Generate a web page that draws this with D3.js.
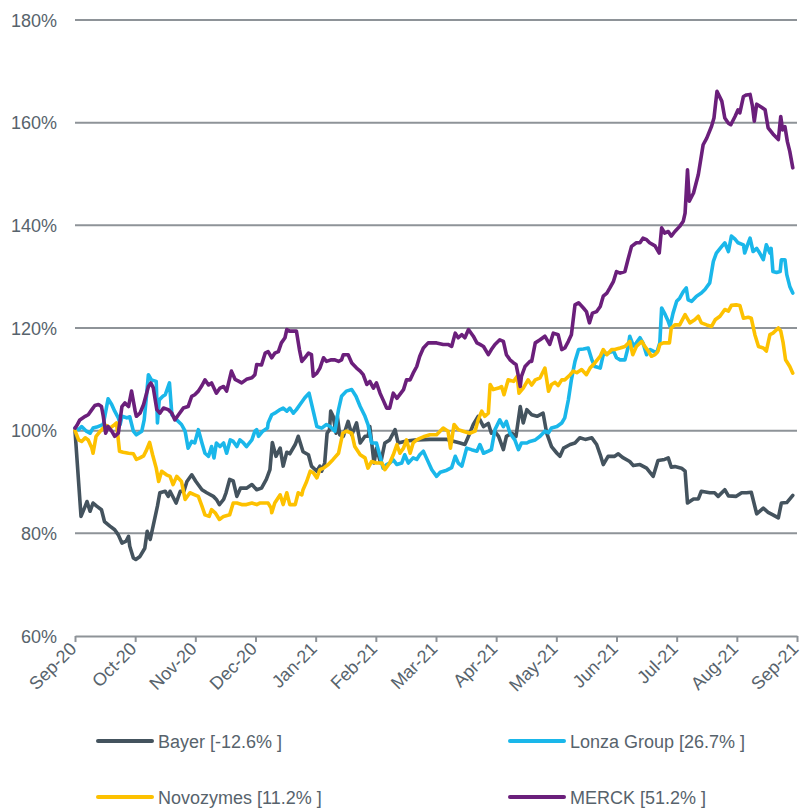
<!DOCTYPE html>
<html>
<head>
<meta charset="utf-8">
<script src="https://cdn.jsdelivr.net/npm/d3@7"></script>
<style>
  body { margin: 0; background: #fff; }
  svg { display: block; font-family: "Liberation Sans", Arial, sans-serif; }
</style>
</head>
<body>
<svg id="chart" width="803" height="809"></svg>
<script>
// ---- Data (t = months since Sep-20, v = indexed value %) ----
const monthLabels = ["Sep-20","Oct-20","Nov-20","Dec-20","Jan-21","Feb-21","Mar-21","Apr-21","May-21","Jun-21","Jul-21","Aug-21","Sep-21"];
const yTicks = [60, 80, 100, 120, 140, 160, 180];
const seriesNames = ["Bayer [-12.6% ]", "Lonza Group [26.7% ]", "Novozymes [11.2% ]", "MERCK [51.2% ]"];
const seriesColors = ["#44535e", "#1ab7ea", "#fdc100", "#6b1f7b"];

const bayer = [[0,100],[0.10,83.3],[0.17,85.3],[0.20,86.2],[0.25,84.3],[0.30,85.9],[0.36,85.3],[0.44,84.6],[0.49,82.3],[0.58,81.4],[0.66,80.7],[0.72,79.7],[0.78,78.1],[0.85,78.5],[0.89,79.4],[0.91,77.5],[0.97,75.2],[1.01,74.9],[1.08,75.5],[1.16,77.1],[1.20,80.4],[1.25,78.8],[1.30,81.5],[1.37,85.3],[1.41,87.9],[1.50,88.2],[1.55,87.2],[1.58,88.2],[1.68,85.9],[1.75,88.2],[1.81,88.2],[1.86,90.1],[1.94,91.4],[2.01,90.1],[2.11,88.5],[2.19,87.9],[2.30,87.2],[2.35,86.6],[2.40,85.6],[2.47,86.6],[2.51,87.9],[2.57,90.5],[2.63,90.2],[2.69,87.2],[2.75,88.8],[2.85,88.8],[2.94,89.5],[3.02,88.5],[3.10,88.8],[3.18,90.5],[3.24,92.4],[3.28,97.7],[3.34,95.0],[3.41,96.6],[3.46,93.1],[3.52,95.8],[3.57,95.5],[3.66,97.3],[3.71,98.9],[3.79,95.9],[3.88,95.3],[3.93,93.1],[4.02,92.1],[4.07,93.1],[4.10,92.1],[4.15,93.7],[4.19,99.5],[4.23,100.2],[4.25,103.8],[4.29,102.8],[4.34,99.5],[4.36,102.8],[4.40,99.2],[4.46,98.9],[4.54,101.8],[4.60,99.2],[4.68,101.5],[4.74,97.6],[4.82,98.9],[4.87,98.9],[4.90,100.8],[4.97,93.7],[5.01,96.6],[5.08,93.7],[5.15,97.6],[5.23,98.2],[5.32,100.2],[5.37,97.6],[5.51,98.0],[5.68,98.2],[5.90,98.3],[6.18,98.3],[6.40,97.6],[6.48,97.3],[6.54,98.9],[6.62,101.2],[6.70,102.8],[6.79,100.8],[6.87,101.4],[6.92,99.5],[6.98,99.8],[7.04,98.9],[7.12,96.3],[7.17,98.9],[7.26,99.5],[7.33,98.9],[7.40,104.7],[7.45,101.5],[7.51,104.1],[7.59,103.1],[7.68,102.8],[7.78,103.4],[7.84,99.5],[7.92,96.9],[8.01,95.6],[8.06,95.0],[8.12,96.6],[8.23,97.3],[8.31,97.6],[8.39,98.6],[8.48,98.3],[8.59,98.6],[8.67,97.3],[8.73,95.3],[8.78,93.4],[8.86,95.0],[8.97,95.0],[9.03,95.5],[9.10,94.8],[9.22,94.0],[9.28,93.2],[9.39,93.4],[9.50,92.7],[9.61,91.1],[9.69,94.2],[9.80,94.4],[9.86,94.7],[9.91,92.9],[9.97,93.0],[10.08,92.7],[10.14,92.1],[10.18,85.9],[10.28,86.7],[10.36,86.7],[10.41,88.2],[10.55,87.9],[10.63,87.9],[10.69,87.2],[10.80,88.5],[10.86,87.3],[10.99,87.2],[11.08,87.9],[11.16,87.9],[11.24,88.0],[11.33,83.8],[11.44,84.9],[11.52,84.1],[11.60,83.6],[11.69,83.0],[11.74,85.9],[11.83,86.0],[11.93,87.4]];

const lonza = [[0,100.5],[0.06,100.2],[0.11,100.8],[0.19,99.9],[0.25,99.5],[0.30,100.5],[0.36,100.7],[0.47,101.2],[0.55,106.2],[0.61,105.1],[0.66,103.8],[0.72,102.5],[0.75,101.2],[0.78,102.8],[0.86,102.5],[0.91,102.7],[0.97,99.9],[1.02,99.2],[1.11,99.9],[1.15,102.1],[1.19,107.0],[1.22,110.9],[1.27,109.9],[1.35,109.6],[1.37,101.5],[1.40,106.0],[1.46,106.7],[1.50,107.0],[1.57,109.3],[1.61,103.1],[1.69,102.1],[1.77,101.2],[1.83,99.9],[1.88,96.6],[1.94,97.9],[1.99,97.6],[2.05,100.2],[2.11,97.6],[2.16,95.6],[2.22,95.0],[2.27,96.9],[2.31,94.7],[2.35,97.6],[2.41,96.9],[2.47,97.6],[2.52,95.6],[2.58,98.2],[2.63,97.9],[2.69,96.9],[2.74,98.2],[2.80,97.6],[2.85,96.9],[2.94,98.2],[2.99,99.9],[3.02,100.2],[3.05,98.9],[3.12,99.9],[3.20,100.5],[3.21,101.5],[3.27,103.1],[3.32,103.4],[3.41,104.1],[3.46,104.4],[3.52,103.8],[3.57,104.4],[3.63,103.4],[3.68,104.1],[3.74,105.1],[3.82,106.4],[3.89,107.3],[3.96,103.8],[4.02,100.8],[4.10,100.5],[4.18,101.2],[4.24,100.8],[4.32,99.9],[4.38,104.1],[4.43,106.7],[4.51,107.7],[4.60,108.0],[4.67,106.7],[4.74,104.7],[4.82,102.8],[4.87,101.2],[4.93,97.6],[5.01,97.6],[5.07,95.0],[5.12,92.7],[5.18,93.4],[5.23,93.7],[5.29,94.3],[5.35,93.4],[5.43,93.7],[5.48,95.3],[5.54,93.7],[5.62,94.7],[5.68,94.4],[5.73,95.3],[5.79,96.0],[5.84,94.7],[5.93,92.4],[6.01,91.1],[6.07,91.9],[6.18,92.3],[6.26,92.8],[6.32,95.0],[6.37,93.7],[6.43,93.1],[6.51,96.6],[6.59,96.3],[6.68,96.0],[6.73,97.3],[6.79,95.6],[6.87,96.0],[6.92,96.3],[6.98,100.2],[7.06,102.1],[7.12,100.8],[7.17,101.8],[7.23,99.5],[7.31,98.2],[7.37,96.3],[7.42,97.6],[7.51,97.6],[7.56,97.9],[7.65,98.2],[7.73,98.9],[7.81,99.9],[7.87,99.6],[7.92,100.5],[8.01,100.8],[8.09,101.5],[8.14,102.5],[8.20,106.0],[8.25,109.9],[8.31,113.5],[8.37,115.8],[8.45,115.9],[8.53,116.1],[8.59,113.8],[8.64,112.5],[8.73,112.2],[8.78,114.8],[8.86,115.1],[8.95,115.5],[9.00,114.2],[9.06,113.8],[9.14,113.8],[9.19,116.1],[9.22,118.4],[9.28,116.5],[9.33,117.1],[9.39,118.1],[9.44,117.1],[9.50,114.8],[9.56,115.8],[9.61,115.5],[9.67,115.2],[9.72,117.1],[9.75,123.9],[9.81,122.6],[9.86,121.3],[9.89,120.3],[9.94,122.9],[10.00,125.2],[10.05,125.8],[10.11,127.1],[10.16,127.8],[10.19,125.5],[10.25,125.2],[10.33,126.2],[10.41,126.8],[10.47,127.5],[10.55,128.8],[10.61,133.0],[10.66,134.6],[10.75,135.9],[10.80,136.6],[10.86,134.9],[10.91,137.9],[10.97,137.3],[11.02,136.6],[11.11,136.2],[11.13,134.6],[11.19,136.6],[11.22,137.5],[11.27,134.9],[11.33,135.5],[11.38,134.6],[11.44,133.3],[11.49,136.2],[11.55,134.6],[11.57,135.5],[11.60,131.0],[11.66,130.8],[11.72,131.0],[11.74,133.3],[11.80,133.3],[11.83,130.4],[11.88,128.1],[11.93,126.8]];

const novozymes = [[0,100],[0.06,98.2],[0.11,97.9],[0.17,98.6],[0.22,98.2],[0.28,96.6],[0.30,95.6],[0.35,98.9],[0.42,99.9],[0.47,100.5],[0.53,101.0],[0.58,100.5],[0.64,101.0],[0.69,101.5],[0.74,96.0],[0.80,95.8],[0.89,95.6],[0.97,95.5],[1.02,94.4],[1.08,94.7],[1.14,95.1],[1.18,96.0],[1.24,97.7],[1.29,95.3],[1.35,92.7],[1.39,90.1],[1.44,92.1],[1.52,91.4],[1.58,91.1],[1.63,89.5],[1.69,91.1],[1.77,90.1],[1.83,86.6],[1.91,87.9],[1.99,87.5],[2.05,87.2],[2.11,85.3],[2.16,83.6],[2.23,83.3],[2.27,84.6],[2.33,84.0],[2.40,82.7],[2.47,83.3],[2.57,83.6],[2.63,85.9],[2.69,85.9],[2.77,85.6],[2.85,85.6],[2.94,85.9],[3.02,85.6],[3.07,85.9],[3.13,85.9],[3.21,85.9],[3.26,84.9],[3.27,84.0],[3.32,85.9],[3.41,87.5],[3.46,85.6],[3.52,87.9],[3.57,85.6],[3.66,85.6],[3.71,87.9],[3.77,87.5],[3.79,88.5],[3.85,90.1],[3.91,92.1],[3.96,91.8],[4.02,90.8],[4.07,92.4],[4.13,92.7],[4.21,93.4],[4.29,94.4],[4.38,95.6],[4.45,99.5],[4.51,99.9],[4.60,99.5],[4.65,96.9],[4.74,95.3],[4.82,94.7],[4.87,92.7],[4.93,94.0],[5.01,93.7],[5.10,93.7],[5.15,92.4],[5.23,93.7],[5.29,95.3],[5.35,97.3],[5.40,95.6],[5.46,96.6],[5.51,98.2],[5.57,95.6],[5.62,97.6],[5.68,98.2],[5.73,98.5],[5.79,98.8],[5.90,99.2],[6.01,99.2],[6.12,100.5],[6.20,99.9],[6.24,96.6],[6.30,101.2],[6.37,100.2],[6.45,99.9],[6.56,99.5],[6.65,99.9],[6.70,102.1],[6.76,103.8],[6.81,102.8],[6.87,103.4],[6.90,109.0],[6.95,108.0],[7.04,108.3],[7.09,108.6],[7.13,107.0],[7.20,109.9],[7.29,109.6],[7.35,110.6],[7.38,107.3],[7.45,108.3],[7.53,109.9],[7.59,108.9],[7.65,109.9],[7.73,110.3],[7.81,112.2],[7.87,107.7],[7.92,109.0],[7.98,109.4],[8.03,108.8],[8.09,109.9],[8.14,109.9],[8.23,110.9],[8.28,111.6],[8.34,111.3],[8.42,111.9],[8.50,110.9],[8.56,112.2],[8.64,113.2],[8.73,114.5],[8.78,115.8],[8.84,114.8],[8.92,115.8],[8.97,115.8],[9.06,116.1],[9.14,116.4],[9.19,117.0],[9.22,117.4],[9.27,114.8],[9.33,116.4],[9.42,117.4],[9.47,116.4],[9.53,115.5],[9.58,114.5],[9.64,114.8],[9.69,115.5],[9.72,116.8],[9.78,117.1],[9.88,117.1],[9.91,120.0],[9.97,120.6],[10.05,120.6],[10.14,122.6],[10.22,121.0],[10.30,121.6],[10.36,122.3],[10.41,121.0],[10.50,120.6],[10.58,120.3],[10.64,121.6],[10.72,122.3],[10.80,123.6],[10.86,123.3],[10.91,124.4],[10.99,124.5],[11.05,124.4],[11.11,121.9],[11.19,122.1],[11.24,121.9],[11.30,118.7],[11.36,116.4],[11.44,116.1],[11.49,115.5],[11.55,118.7],[11.60,119.0],[11.69,120.0],[11.73,119.4],[11.77,117.1],[11.81,113.8],[11.88,112.5],[11.93,111.2]];

const merck = [[0,100.5],[0.03,101.0],[0.08,102.1],[0.17,102.8],[0.22,103.1],[0.28,104.1],[0.33,104.9],[0.39,105.1],[0.44,104.7],[0.47,102.8],[0.51,99.5],[0.55,100.8],[0.61,99.9],[0.66,98.9],[0.72,99.5],[0.78,104.7],[0.83,105.4],[0.89,104.7],[0.94,107.7],[1.00,103.8],[1.02,102.8],[1.08,103.4],[1.14,105.1],[1.22,108.6],[1.26,109.3],[1.30,108.4],[1.36,104.1],[1.41,103.4],[1.47,104.4],[1.55,104.1],[1.61,103.4],[1.66,102.1],[1.72,103.1],[1.80,104.4],[1.88,104.7],[1.94,106.7],[1.99,107.0],[2.05,107.7],[2.11,108.8],[2.16,109.9],[2.22,108.9],[2.27,109.3],[2.35,107.3],[2.41,108.3],[2.47,108.6],[2.52,107.7],[2.60,111.6],[2.66,110.0],[2.71,109.7],[2.77,109.3],[2.85,110.0],[2.94,110.3],[2.99,110.9],[3.02,112.9],[3.10,112.8],[3.16,115.1],[3.21,115.4],[3.27,114.2],[3.32,115.1],[3.38,115.4],[3.43,117.1],[3.49,118.1],[3.52,119.7],[3.57,119.4],[3.63,119.4],[3.68,119.4],[3.73,115.8],[3.77,113.5],[3.82,114.2],[3.88,115.1],[3.93,114.8],[3.96,110.6],[4.02,111.2],[4.07,112.2],[4.13,114.2],[4.18,113.5],[4.26,113.8],[4.32,113.8],[4.38,113.5],[4.43,113.8],[4.46,114.8],[4.54,114.8],[4.60,113.2],[4.68,112.2],[4.74,111.6],[4.79,110.9],[4.85,109.0],[4.90,109.6],[4.96,108.3],[5.01,109.3],[5.07,107.3],[5.12,106.0],[5.18,104.4],[5.23,104.4],[5.29,107.3],[5.35,106.3],[5.46,108.0],[5.51,109.9],[5.57,109.9],[5.62,111.2],[5.68,112.5],[5.73,114.5],[5.79,116.1],[5.87,117.1],[5.95,117.1],[6.01,117.1],[6.12,116.8],[6.20,116.8],[6.26,116.4],[6.32,119.0],[6.37,118.1],[6.43,118.7],[6.48,118.1],[6.54,119.7],[6.62,118.4],[6.68,117.1],[6.73,116.8],[6.79,116.4],[6.87,114.8],[6.92,115.8],[6.98,116.8],[7.06,117.7],[7.12,117.4],[7.17,114.8],[7.23,113.8],[7.29,113.2],[7.33,112.9],[7.37,110.6],[7.40,108.6],[7.42,110.6],[7.48,112.5],[7.56,113.5],[7.59,113.5],[7.65,117.1],[7.73,117.7],[7.81,118.4],[7.89,116.8],[7.95,119.0],[8.03,118.7],[8.09,115.8],[8.14,116.1],[8.20,117.4],[8.25,118.7],[8.31,124.5],[8.37,124.9],[8.45,123.9],[8.50,123.2],[8.55,121.0],[8.60,122.9],[8.67,123.2],[8.73,124.2],[8.78,126.2],[8.84,126.8],[8.89,127.8],[8.95,129.1],[9.00,131.0],[9.06,130.7],[9.14,131.0],[9.19,133.3],[9.25,135.9],[9.33,136.6],[9.39,136.6],[9.44,137.5],[9.50,137.2],[9.55,136.6],[9.64,136.0],[9.71,134.6],[9.75,139.5],[9.80,138.5],[9.86,138.8],[9.91,137.9],[9.97,138.8],[10.05,139.8],[10.11,140.8],[10.14,142.4],[10.18,150.8],[10.21,144.7],[10.28,146.3],[10.36,149.9],[10.44,155.7],[10.50,157.0],[10.58,159.3],[10.62,160.9],[10.67,166.1],[10.75,164.2],[10.80,160.9],[10.86,159.9],[10.90,159.6],[10.97,161.2],[11.02,162.5],[11.05,161.9],[11.11,165.1],[11.16,165.4],[11.22,165.5],[11.26,163.2],[11.29,160.3],[11.33,163.6],[11.41,163.0],[11.47,162.5],[11.52,159.0],[11.60,157.8],[11.69,156.7],[11.73,161.2],[11.76,158.6],[11.80,159.2],[11.84,156.3],[11.88,154.4],[11.93,151.2]];

const allSeries = [bayer, lonza, novozymes, merck];

// ---- Drawing ----
const svg = d3.select("#chart");
const textColor = "#57636c";
const gridColor = "#8e9398";

const x = d3.scaleLinear().domain([0, monthLabels.length - 1]).range([75, 797]);
const y = d3.scaleLinear().domain([60, 180]).range([636, 20]);

// gridlines
svg.append("g").selectAll("line")
  .data(yTicks.filter(d => d > 60))
  .join("line")
  .attr("x1", x(0)).attr("x2", x(12))
  .attr("y1", d => y(d)).attr("y2", d => y(d))
  .attr("stroke", gridColor).attr("stroke-width", 2);

// y axis labels
svg.append("g").selectAll("text")
  .data(yTicks)
  .join("text")
  .attr("x", 57).attr("y", d => y(d) + 6.5)
  .attr("text-anchor", "end")
  .attr("font-size", 18).attr("fill", textColor)
  .text(d => d + "%");

// x axis
const xAxis = d3.axisBottom(x)
  .tickValues(d3.range(monthLabels.length))
  .tickFormat(i => monthLabels[i])
  .tickSize(6).tickSizeOuter(0);
const gx = svg.append("g").attr("transform", `translate(0,${y(60)})`).call(xAxis);
gx.select(".domain").attr("stroke", gridColor).attr("stroke-width", 2);
gx.selectAll(".tick line").attr("stroke", gridColor).attr("stroke-width", 2);
gx.selectAll(".tick text")
  .attr("font-size", 18).attr("font-family", "Liberation Sans, Arial, sans-serif")
  .attr("fill", textColor)
  .attr("text-anchor", "end")
  .attr("dy", 0).attr("y", 0).attr("x", 0)
  .attr("transform", "translate(2,14) rotate(-45)");

// lines
const line = d3.line().x(d => x(d[0])).y(d => y(d[1]));
svg.append("g").selectAll("path")
  .data(allSeries)
  .join("path")
  .attr("d", line)
  .attr("fill", "none")
  .attr("stroke", (d, i) => seriesColors[i])
  .attr("stroke-width", 3.6)
  .attr("stroke-linejoin", "round")
  .attr("stroke-linecap", "round");

// legend
const legendPos = [[98, 741], [510, 741], [98, 797], [510, 797]];
const lg = svg.append("g").selectAll("g")
  .data(seriesNames)
  .join("g")
  .attr("transform", (d, i) => `translate(${legendPos[i][0]},${legendPos[i][1]})`);
lg.append("line")
  .attr("x1", 0).attr("x2", 54).attr("y1", 0).attr("y2", 0)
  .attr("stroke", (d, i) => seriesColors[i]).attr("stroke-width", 4)
  .attr("stroke-linecap", "round");
lg.append("text")
  .attr("x", 60).attr("y", 6.5)
  .attr("font-size", 18).attr("fill", textColor)
  .text(d => d);
</script>
</body>
</html>
